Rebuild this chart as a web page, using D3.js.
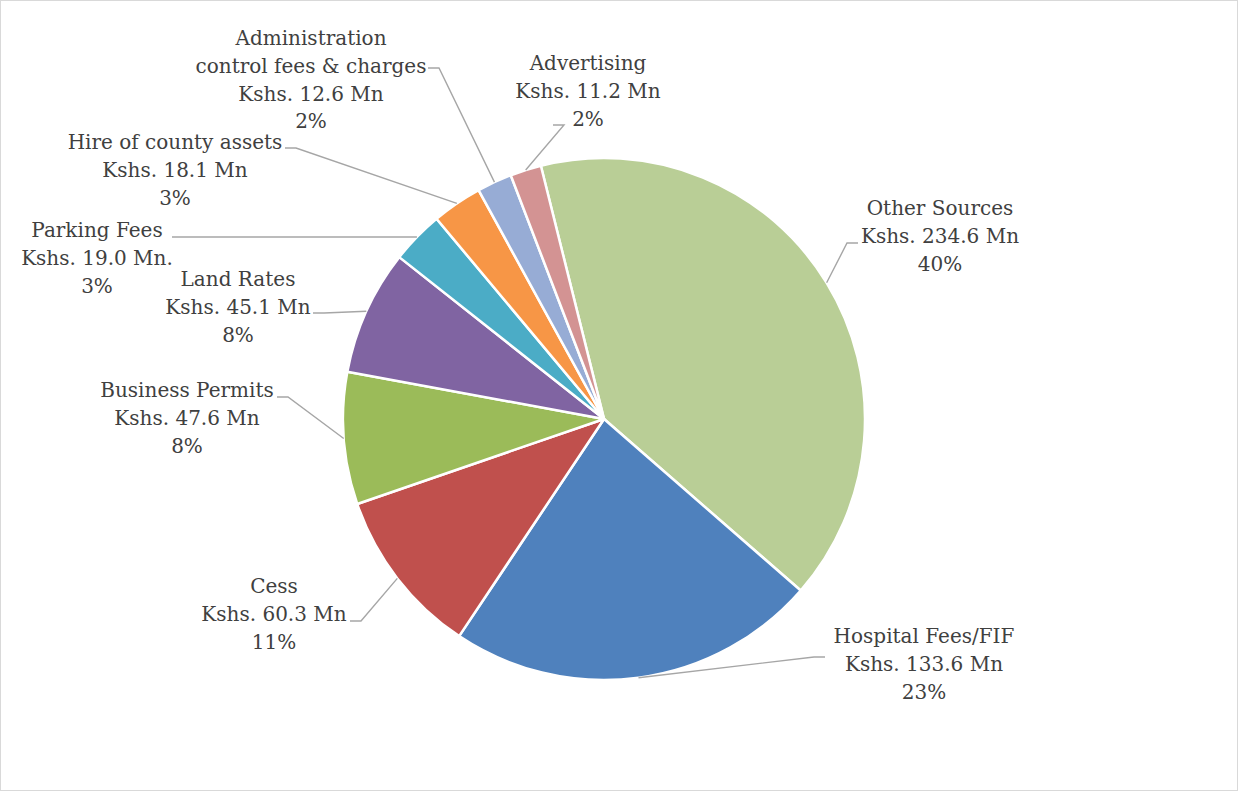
<!DOCTYPE html>
<html>
<head>
<meta charset="utf-8">
<script src="https://cdn.jsdelivr.net/npm/d3@7"></script>
<style>
  html, body { margin: 0; padding: 0; background: #fff; }
  svg text { font-family: "DejaVu Serif", "Liberation Serif", serif; }
</style>
</head>
<body>
<svg id="chart" width="1239" height="792"></svg>
<script>
const categories = ["Other Sources", "Hospital Fees/FIF", "Cess", "Business Permits", "Land Rates",
  "Parking Fees", "Hire of county assets", "Administration control fees & charges", "Advertising"];
const values = [234.6, 133.6, 60.3, 47.6, 45.1, 19.0, 18.1, 12.6, 11.2];
const valueLabels = ["Kshs. 234.6 Mn", "Kshs. 133.6 Mn", "Kshs. 60.3 Mn", "Kshs. 47.6 Mn", "Kshs. 45.1 Mn",
  "Kshs. 19.0 Mn.", "Kshs. 18.1 Mn", "Kshs. 12.6 Mn", "Kshs. 11.2 Mn"];
const percentLabels = ["40%", "23%", "11%", "8%", "8%", "3%", "3%", "2%", "2%"];
const nameLines = [["Other Sources"], ["Hospital Fees/FIF"], ["Cess"], ["Business Permits"], ["Land Rates"],
  ["Parking Fees"], ["Hire of county assets"], ["Administration", "control fees & charges"], ["Advertising"]];
const colors = ["#B9CE96", "#4F81BD", "#C0504D", "#9BBB59", "#8064A2", "#4BACC6", "#F79646", "#97ACD5", "#D39393"];

// layout of labels (center x, first line center y, leader start x, leader y, leader side)
const labelLayout = [
  {cx: 940, y0: 208, lx: 858, ly: 243, dir: -1},
  {cx: 924, y0: 636, lx: 825, ly: 657, dir: -1},
  {cx: 274, y0: 586, lx: 350, ly: 621, dir: 1},
  {cx: 187, y0: 390, lx: 277, ly: 397, dir: 1},
  {cx: 238, y0: 279, lx: 313, ly: 313, dir: 1},
  {cx: 97,  y0: 230, lx: 172, ly: 237, dir: 1},
  {cx: 175, y0: 142, lx: 285, ly: 148, dir: 1},
  {cx: 311, y0: 38,  lx: 428, ly: 68,  dir: 1},
  {cx: 588, y0: 63,  lx: 553, ly: 125, dir: 1}
];

const svg = d3.select("#chart");
svg.append("rect").attr("x", 0.5).attr("y", 0.5).attr("width", 1237).attr("height", 790)
  .attr("fill", "#fff").attr("stroke", "#d9d9d9").attr("stroke-width", 1);

const cx = 604, cy = 419, r = 261;
const start = -14 * Math.PI / 180;
const pie = d3.pie().sort(null).value(d => d).startAngle(start).endAngle(start + 2 * Math.PI);
const arcs = pie(values);
const arc = d3.arc().innerRadius(0).outerRadius(r);

const g = svg.append("g").attr("transform", `translate(${cx},${cy})`);
g.selectAll("path").data(arcs).enter().append("path")
  .attr("d", arc)
  .attr("fill", (d, i) => colors[i])
  .attr("stroke", "#fff").attr("stroke-width", 2.5).attr("stroke-linejoin", "round");

// leader lines
arcs.forEach((d, i) => {
  const L = labelLayout[i];
  const mid = (d.startAngle + d.endAngle) / 2;
  const px = cx + r * Math.sin(mid), py = cy - r * Math.cos(mid);
  const bx = L.lx + L.dir * 11;
  svg.append("polyline")
    .attr("points", `${L.lx},${L.ly} ${bx},${L.ly} ${px},${py}`)
    .attr("fill", "none").attr("stroke", "#A6A6A6").attr("stroke-width", 1.4);
});

// labels
const lineH = 27.7;
arcs.forEach((d, i) => {
  const L = labelLayout[i];
  const lines = nameLines[i].concat([valueLabels[i], percentLabels[i]]);
  const t = svg.append("text").attr("text-anchor", "middle").attr("fill", "#404040")
    .attr("font-size", 20);
  lines.forEach((s, k) => {
    t.append("tspan").attr("x", L.cx).attr("y", L.y0 + k * lineH).attr("dy", "0.36em").text(s);
  });
});
</script>
</body>
</html>
